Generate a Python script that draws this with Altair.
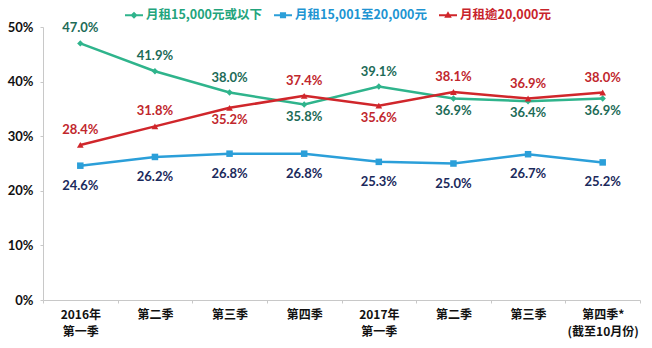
import json
import altair as alt
import pandas as pd

# ---- data ----
categories = ["2016年\n第一季", "第二季", "第三季", "第四季", "2017年\n第一季", "第二季", "第三季", "第四季*\n(截至10月份)"]
series_names = ["月租15,000元或以下", "月租15,001至20,000元", "月租逾20,000元"]
low_rent = [47.0, 41.9, 38.0, 35.8, 39.1, 36.9, 36.4, 36.9]
mid_rent = [24.6, 26.2, 26.8, 26.8, 25.3, 25.0, 26.7, 25.2]
high_rent = [28.4, 31.8, 35.2, 37.4, 35.6, 38.1, 36.9, 38.0]
# label placement relative to the point: "a" above, "b" below, "c" further below
low_pos = ["a", "a", "a", "b", "a", "b", "b", "b"]
mid_pos = ["c"] * 8
high_pos = ["a", "a", "b", "a", "b", "a", "a", "a"]

# ---- style ----
line_colors = ["#2fb48c", "#2b9fd9", "#d0262b"]
label_colors = ["#1d6b57", "#1b2a5c", "#c1272d"]
legend_text_colors = ["#22a47c", "#2094d2", "#c8242b"]
shapes = ["diamond", "square", "triangle-up"]
shape_sizes = [40, 45, 35]
BAR = "M-1,-0.12L1,-0.12L1,0.12L-1,0.12Z"
legend_paths = [
    BAR + "M0,-0.4L0.4,0L0,0.4L-0.4,0Z",
    BAR + "M-0.34,-0.34L0.34,-0.34L0.34,0.34L-0.34,0.34Z",
    BAR + "M0,-0.45L0.42,0.28L-0.42,0.28Z",
]
FONT = "Lato, Noto Sans CJK TC, sans-serif"
CJK = "Noto Sans CJK TC, Lato, sans-serif"

rows = []
for name, vals, pos in zip(series_names, [low_rent, mid_rent, high_rent], [low_pos, mid_pos, high_pos]):
    for i, (v, p) in enumerate(zip(vals, pos)):
        rows.append({"idx": i, "series": name, "value": v, "pos": p, "label": f"{v:.1f}%"})
df = pd.DataFrame(rows)

label_arrays = [c.split("\n") for c in categories]
label_expr = json.dumps(label_arrays, ensure_ascii=False) + "[datum.value]"


def sig(vals):
    expr = json.dumps(vals[-1])
    for n, v in reversed(list(zip(series_names[:-1], vals[:-1]))):
        expr = f"datum.value === {json.dumps(n, ensure_ascii=False)} ? {json.dumps(v)} : ({expr})"
    return expr


x_enc = alt.X(
    "idx:O",
    scale=alt.Scale(type="band", paddingInner=0, paddingOuter=0),
    axis=alt.Axis(
        title=None,
        labelExpr=label_expr,
        labelAngle=0,
        tickBand="extent",
        tickSize=3,
        tickColor="#c8c8c8",
        domainColor="#c8c8c8",
        labelFont=CJK,
        labelFontSize=12,
        labelFontWeight="bold",
        labelColor="#111111",
        labelPadding=6,
        labelLineHeight=17,
        labelBaseline="top",
    ),
)
y_enc = alt.Y(
    "value:Q",
    scale=alt.Scale(domain=[0, 50], nice=False),
    axis=alt.Axis(
        title=None,
        values=[0, 10, 20, 30, 40, 50],
        labelExpr="datum.value + '%'",
        grid=False,
        tickSize=3,
        tickColor="#c8c8c8",
        domainColor="#c8c8c8",
        labelFont=FONT,
        labelFontSize=13,
        labelFontWeight="bold",
        labelColor="#111111",
        labelPadding=7,
    ),
)

color_scale = alt.Scale(domain=series_names, range=line_colors)

lines = alt.Chart(df).mark_line(strokeWidth=2.5).encode(
    x=x_enc,
    y=y_enc,
    color=alt.Color(
        "series:N",
        scale=color_scale,
        sort=series_names,
        legend=alt.Legend(
            title=None,
            orient="none",
            legendX=82,
            legendY=-21,
            direction="horizontal",
            symbolSize=324,
            symbolStrokeWidth=0,
            symbolType={"expr": sig(legend_paths)},
            symbolFillColor={"expr": sig(line_colors)},
            symbolStrokeColor={"expr": sig(line_colors)},
            symbolOpacity=1,
            labelColor={"expr": sig(legend_text_colors)},
            labelFont=CJK,
            labelFontSize=12.5,
            labelFontWeight="bold",
            labelOffset=3,
            columnPadding=12,
        ),
    ),
    order=alt.Order("idx:O"),
    detail="series:N",
)

points = alt.Chart(df).mark_point(filled=True, opacity=1).encode(
    x=x_enc,
    y=y_enc,
    color=alt.Color("series:N", scale=color_scale, legend=None),
    shape=alt.Shape("series:N", scale=alt.Scale(domain=series_names, range=shapes), legend=None),
    size=alt.Size("series:N", scale=alt.Scale(domain=series_names, range=shape_sizes), legend=None),
)

label_color = alt.Color("series:N", scale=alt.Scale(domain=series_names, range=label_colors), legend=None)


def text_layer(pos, dy):
    return (
        alt.Chart(df)
        .transform_filter(alt.datum.pos == pos)
        .mark_text(font=FONT, fontSize=13, fontWeight="bold", dy=dy, baseline="middle")
        .encode(x=x_enc, y=y_enc, text="label:N", color=label_color)
    )


chart = (
    alt.layer(lines, points, text_layer("a", -15), text_layer("b", 12), text_layer("c", 20))
    .resolve_scale(color="independent")
    .properties(
        width=597,
        height=273,
        autosize=alt.AutoSizeParams(type="none"),
        padding={"left": 43, "top": 27, "right": 12, "bottom": 48},
        background="white",
    )
    .configure_view(stroke=None)
)

chart.save("out.html", embed_options={"renderer": "svg", "actions": False})
